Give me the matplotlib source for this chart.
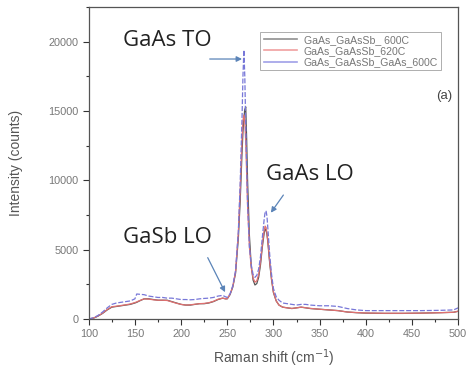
import numpy as np
import matplotlib.pyplot as plt
from matplotlib.ticker import MultipleLocator

# Raman shift (cm^-1)
shift = [100, 105, 110, 115, 120, 125, 130, 135, 140, 145, 150, 152, 155, 160, 165,
         170, 175, 180, 185, 190, 195, 200, 205, 210, 215, 220, 225, 230, 235, 240,
         245, 248, 250, 253, 256, 259, 262, 264, 266, 267, 268, 269, 270, 271, 272,
         274, 276, 278, 280, 282, 284, 286, 288, 290, 291, 292, 293, 294, 296, 298,
         300, 303, 306, 310, 315, 320, 325, 330, 335, 340, 350, 360, 370, 380, 390,
         400, 420, 440, 460, 480, 495, 500]

# GaAs_GaAsSb_ 600C
s600 = [0, 50, 200, 400, 650, 850, 900, 950, 1000, 1050, 1150, 1200, 1300, 1450, 1450,
        1400, 1350, 1350, 1350, 1250, 1150, 1050, 1000, 1000, 1050, 1100, 1100, 1150, 1250, 1400,
        1500, 1450, 1450, 1750, 2300, 3300, 5800, 8500, 12000, 13500, 14500, 15100, 15300, 13000, 10000,
        6000, 3800, 2800, 2450, 2550, 3000, 3900, 5200, 6200, 6500, 6400, 6100, 5500, 4000, 2800,
        1900, 1300, 1000, 850, 800, 750, 800, 850, 800, 750, 700, 650, 600, 500, 450,
        420, 400, 400, 420, 450, 480, 550]

# GaAs_GaAsSb_620C
s620 = [0, 60, 220, 420, 680, 880, 920, 970, 1020, 1080, 1180, 1230, 1320, 1450, 1430,
        1380, 1350, 1350, 1330, 1230, 1130, 1050, 1000, 1020, 1060, 1100, 1120, 1170, 1270, 1420,
        1500, 1460, 1460, 1780, 2350, 3400, 6200, 9300, 13000, 14300, 14700, 14200, 12800, 10500, 8200,
        5200, 3700, 2950, 2650, 2750, 3200, 4100, 5400, 6400, 6700, 6600, 6200, 5600, 4100, 2900,
        1950, 1300, 1000, 850, 800, 760, 800, 850, 810, 760, 700, 650, 600, 500, 460,
        430, 410, 410, 420, 450, 480, 560]

# GaAs_GaAsSb_GaAs_600C
s600b = [0, 80, 250, 500, 800, 1050, 1150, 1200, 1250, 1300, 1450, 1800, 1780, 1750, 1650,
         1600, 1550, 1550, 1500, 1500, 1450, 1400, 1400, 1380, 1400, 1450, 1480, 1500, 1550, 1650,
         1700, 1600, 1550, 1800, 2400, 3500, 6300, 9800, 14500, 17500, 19400, 17500, 14000, 11000, 8300,
         5200, 3900, 3200, 3000, 3150, 3600, 4500, 5900, 7200, 7700, 7800, 7400, 6500, 4600, 3200,
         2200, 1600, 1350, 1150, 1100, 1050, 1000, 1050, 1050, 1000, 950, 950, 900, 750, 650,
         600, 600, 600, 600, 620, 650, 800]

series = ["GaAs_GaAsSb_ 600C", "GaAs_GaAsSb_620C", "GaAs_GaAsSb_GaAs_600C"]

fig = plt.figure(figsize=(4.67, 3.70), dpi=100)
ax = fig.add_axes([0.19, 0.138, 0.791, 0.843])

ax.plot(shift, s600, color="#555555", lw=0.9, label=series[0])
ax.plot(shift, s620, color="#e07070", lw=0.9, label=series[1])
ax.plot(shift, s600b, color="#7777d8", lw=0.9, ls=(0, (4, 1.5)), label=series[2])

ax.set_xlim(100, 500)
ax.set_ylim(0, 22500)
ax.xaxis.set_major_locator(MultipleLocator(50))
ax.xaxis.set_minor_locator(MultipleLocator(25))
ax.yaxis.set_major_locator(MultipleLocator(5000))
ax.yaxis.set_minor_locator(MultipleLocator(2500))
ax.tick_params(which="major", direction="out", length=4, width=0.8, color="#333333",
               labelsize=7.8, labelcolor="#777777")
ax.tick_params(which="minor", direction="out", length=2, width=0.8, color="#333333")
for lab in ax.get_xticklabels() + ax.get_yticklabels():
    lab.set_family("Liberation Sans")
for sp in ax.spines.values():
    sp.set_color("#555555")
    sp.set_linewidth(0.9)

ax.set_xlabel("Raman shift (cm$^{-1}$)", fontsize=10, color="#555555",
              family="Liberation Sans", labelpad=6)
ax.set_ylabel("Intensity (counts)", fontsize=10, color="#555555",
              family="Liberation Sans", labelpad=18)

leg = ax.legend(loc="upper right", bbox_to_anchor=(0.968, 0.937),
                frameon=True, fancybox=False, handlelength=3.2, handletextpad=0.6,
                borderpad=0.3, labelspacing=0.1, prop={"family": "Liberation Sans", "size": 7.6})
leg.get_frame().set_edgecolor("#999999")
leg.get_frame().set_linewidth(0.7)
for t in leg.get_texts():
    t.set_color("#777777")
for h, c in zip(leg.get_lines(), ["#909090", "#f0a0a0", "#a0a0e8"]):
    h.set_color(c)
    h.set_linestyle("-")
    h.set_linewidth(1.2)

acol = "#5b84b8"
big = dict(fontsize=16, family="Open Sans", color="#222222", va="center")
ax.text(137, 20100, "GaAs TO", **big)
ax.text(292, 10450, "GaAs LO", **big)
ax.text(137, 5900, "GaSb LO", **big)
ax.text(494, 16050, "(a)", fontsize=9.5, color="#444444", family="Liberation Sans",
        ha="right", va="center")

arrow = dict(arrowstyle="-|>", color=acol, lw=0.9, mutation_scale=8)
ax.annotate("", xy=(269, 18750), xytext=(228, 18750), arrowprops=arrow)
ax.annotate("", xy=(295.5, 7500), xytext=(312.5, 9100), arrowprops=arrow)
ax.annotate("", xy=(249, 1750), xytext=(227.5, 4600), arrowprops=arrow)

fig.savefig("out.png", dpi=100)
